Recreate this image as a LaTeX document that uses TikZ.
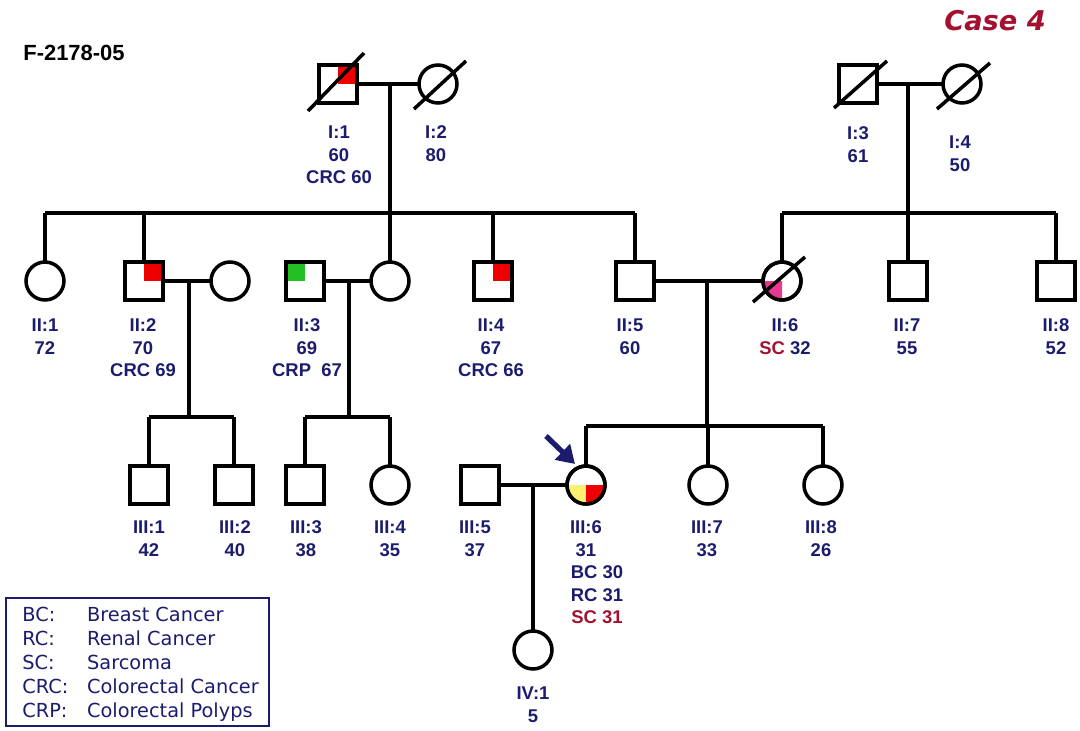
\documentclass[tikz,border=0pt]{standalone}
\usepackage{fontspec}
\setmainfont{Liberation Sans}
\newfontfamily\legfont{DejaVu Sans}
\newfontfamily\casefont{DejaVu Sans}
\usetikzlibrary{arrows.meta}
\definecolor{navy}{HTML}{1C1C6E}
\definecolor{crim}{HTML}{A3112E}
\definecolor{qred}{HTML}{EE0000}
\definecolor{qgreen}{HTML}{22C022}
\definecolor{qpink}{HTML}{E8388F}
\definecolor{qyellow}{HTML}{FFF070}
\begin{document}
\begin{tikzpicture}[x=0.02cm,y=0.02cm,
  male/.style={draw, rectangle, minimum size=0.76cm, inner sep=0pt, outer sep=0pt, line width=2pt},
  female/.style={draw, circle, minimum size=0.76cm, inner sep=0pt, outer sep=0pt, line width=2pt},
  conn/.style={line width=2pt},
  dead/.style={line width=2pt},
  outl/.style={line width=2pt},
  lab/.style={text=navy, font=\fontsize{10.5}{12.8}\selectfont\bfseries, align=center, anchor=north, inner sep=0pt},
  legtxt/.style={text=navy, font=\legfont\fontsize{11}{13.6}\selectfont, inner sep=0pt, anchor=west},
  proband/.style={navy, line width=3pt, -{Triangle[length=10pt,width=12pt]}}
]
\useasboundingbox (0,0) rectangle (1080,-731);

% ---------------- persons ----------------
\node[male]   (I1) at (338,-84) {};
\node[female] (I2) at (438,-84) {};
\node[male]   (I3) at (858,-84) {};
\node[female] (I4) at (962,-84) {};

\node[female] (II1) at (45,-281) {};
\node[male]   (II2) at (144,-281) {};
\node[female] (II2w) at (230,-281) {};
\node[male]   (II3) at (305,-281) {};
\node[female] (IIx) at (390,-281) {};
\node[male]   (II4) at (493,-281) {};
\node[male]   (II5) at (635,-281) {};
\node[female] (II6) at (782,-281) {};
\node[male]   (II7) at (908,-281) {};
\node[male]   (II8) at (1056,-281) {};

\node[male]   (III1) at (149,-485) {};
\node[male]   (III2) at (234,-485) {};
\node[male]   (III3) at (305,-485) {};
\node[female] (III4) at (390,-485) {};
\node[male]   (III5) at (480,-485) {};
\node[female] (III6) at (586,-485) {};
\node[female] (III7) at (708,-485) {};
\node[female] (III8) at (823,-485) {};

\node[female] (IV1) at (533,-650) {};

% ---------------- affected quadrants ----------------
\fill[qred] (I1.center) rectangle (I1.north east);
\draw[outl] (I1.south west) rectangle (I1.north east);
\fill[qred] (II2.center) rectangle (II2.north east);
\draw[outl] (II2.south west) rectangle (II2.north east);
\fill[qgreen] (II3.center) rectangle (II3.north west);
\draw[outl] (II3.south west) rectangle (II3.north east);
\fill[qred] (II4.center) rectangle (II4.north east);
\draw[outl] (II4.south west) rectangle (II4.north east);
\fill[qpink] (II6.center) -- (II6.west) arc[start angle=180, end angle=270, radius=0.38cm] -- cycle;
\draw[outl] (II6.center) circle[radius=0.38cm];
\fill[qyellow] (III6.center) -- (III6.west) arc[start angle=180, end angle=270, radius=0.38cm] -- cycle;
\fill[qred] (III6.center) -- (III6.south) arc[start angle=270, end angle=360, radius=0.38cm] -- cycle;
\draw[outl] (III6.center) circle[radius=0.38cm];

% ---------------- deceased ----------------
\draw[dead] ([shift={(-30,-27)}]I1.center) -- ([shift={(26,31)}]I1.center);
\draw[dead] ([shift={(-24,-25)}]I2.center) -- ([shift={(28,23)}]I2.center);
\draw[dead] ([shift={(-24,-24)}]I3.center) -- ([shift={(29,23)}]I3.center);
\draw[dead] ([shift={(-25,-25)}]I4.center) -- ([shift={(28,21)}]I4.center);
\draw[dead] ([shift={(-29,-21)}]II6.center) -- ([shift={(23,24)}]II6.center);

% ---------------- connectors ----------------
\coordinate (m1) at (390,-84);
\coordinate (s1) at (390,-213);
\draw[conn] (I1.east) -- (I2.west);
\draw[conn] (m1) -- (s1);
\draw[conn] (II1 |- s1) -- (II5 |- s1);
\foreach \c in {II1,II2,IIx,II4,II5} \draw[conn] (\c |- s1) -- (\c.north);

\coordinate (m2) at (908,-84);
\coordinate (s2) at (908,-213);
\draw[conn] (I3.east) -- (I4.west);
\draw[conn] (m2) -- (s2);
\draw[conn] (II6 |- s2) -- (II8 |- s2);
\foreach \c in {II6,II7,II8} \draw[conn] (\c |- s2) -- (\c.north);

\coordinate (m3) at (189,-281);
\coordinate (s3) at (189,-417);
\draw[conn] (II2.east) -- (II2w.west);
\draw[conn] (m3) -- (s3);
\draw[conn] (III1 |- s3) -- (III2 |- s3);
\foreach \c in {III1,III2} \draw[conn] (\c |- s3) -- (\c.north);

\coordinate (m4) at (349,-281);
\coordinate (s4) at (349,-417);
\draw[conn] (II3.east) -- (IIx.west);
\draw[conn] (m4) -- (s4);
\draw[conn] (III3 |- s4) -- (III4 |- s4);
\foreach \c in {III3,III4} \draw[conn] (\c |- s4) -- (\c.north);

\coordinate (m5) at (707,-281);
\coordinate (s5) at (707,-426);
\draw[conn] (II5.east) -- (II6.west);
\draw[conn] (m5) -- (s5);
\draw[conn] (III6 |- s5) -- (III8 |- s5);
\foreach \c in {III6,III7,III8} \draw[conn] (\c |- s5) -- (\c.north);

\coordinate (m6) at (533,-485);
\draw[conn] (III5.east) -- (III6.west);
\draw[conn] (m6) -- (IV1.north);

% proband arrow
\coordinate (arrS) at (546,-436);
\coordinate (arrE) at (575,-464);
\draw[proband] (arrS) -- (arrE);

% ---------------- labels ----------------
\node[lab] (lI1) at (339,-125.5) {I:1\\60\\CRC 60};
\node[lab] (lI2) at (436,-125.5) {I:2\\80};
\node[lab] (lI3) at (858,-126.5) {I:3\\61};
\node[lab] (lI4) at (960,-135.5) {I:4\\50};

\node[lab] (lII1) at (45,-318.5) {II:1\\72};
\node[lab] (lII2) at (143,-318.5) {II:2\\70\\CRC 69};
\node[lab] (lII3) at (307,-318.5) {II:3\\69\\CRP~~67};
\node[lab] (lII4) at (491,-318.5) {II:4\\67\\CRC 66};
\node[lab] (lII5) at (630,-318.5) {II:5\\60};
\node[lab] (lII6) at (785,-318.5) {II:6\\{\color{crim}SC} 32};
\node[lab] (lII7) at (907,-318.5) {II:7\\55};
\node[lab] (lII8) at (1056,-318.5) {II:8\\52};

\node[lab] (lIII1) at (149,-520.5) {III:1\\42};
\node[lab] (lIII2) at (235,-520.5) {III:2\\40};
\node[lab] (lIII3) at (306,-520.5) {III:3\\38};
\node[lab] (lIII4) at (390,-520.5) {III:4\\35};
\node[lab] (lIII5) at (475,-520.5) {III:5\\37};
\node[lab] (lIII6) at (586,-520.5) {III:6\\31};
\node[lab] (lIII6d) at (597,-565.5) {BC 30\\RC 31\\{\color{crim}SC 31}};
\node[lab] (lIII7) at (707,-520.5) {III:7\\33};
\node[lab] (lIII8) at (821,-520.5) {III:8\\26};
\node[lab] (lIV1) at (533,-686.5) {IV:1\\5};

% ---------------- titles ----------------
\node[font=\fontsize{12.5}{14}\selectfont\bfseries, inner sep=0pt] (fid) at (74,-53) {F-2178-05};
\node[font=\casefont\bfseries\itshape\fontsize{15.5}{18}\selectfont, text=crim, inner sep=0pt] (case) at (995,-21) {Case 4};

% ---------------- legend ----------------
\node[draw=navy, line width=0.9pt, minimum width=5.26cm, minimum height=2.56cm, anchor=north west, inner sep=0pt] (legend) at (5,-597) {};
\node[legtxt] (legtext) at (22,-665) {%
\begin{tabular}{@{}p{36.9pt}@{}l@{}}
BC: & Breast Cancer\\
RC: & Renal Cancer\\
SC: & Sarcoma\\
CRC: & Colorectal Cancer\\
CRP: & Colorectal Polyps
\end{tabular}};
\end{tikzpicture}
\end{document}
